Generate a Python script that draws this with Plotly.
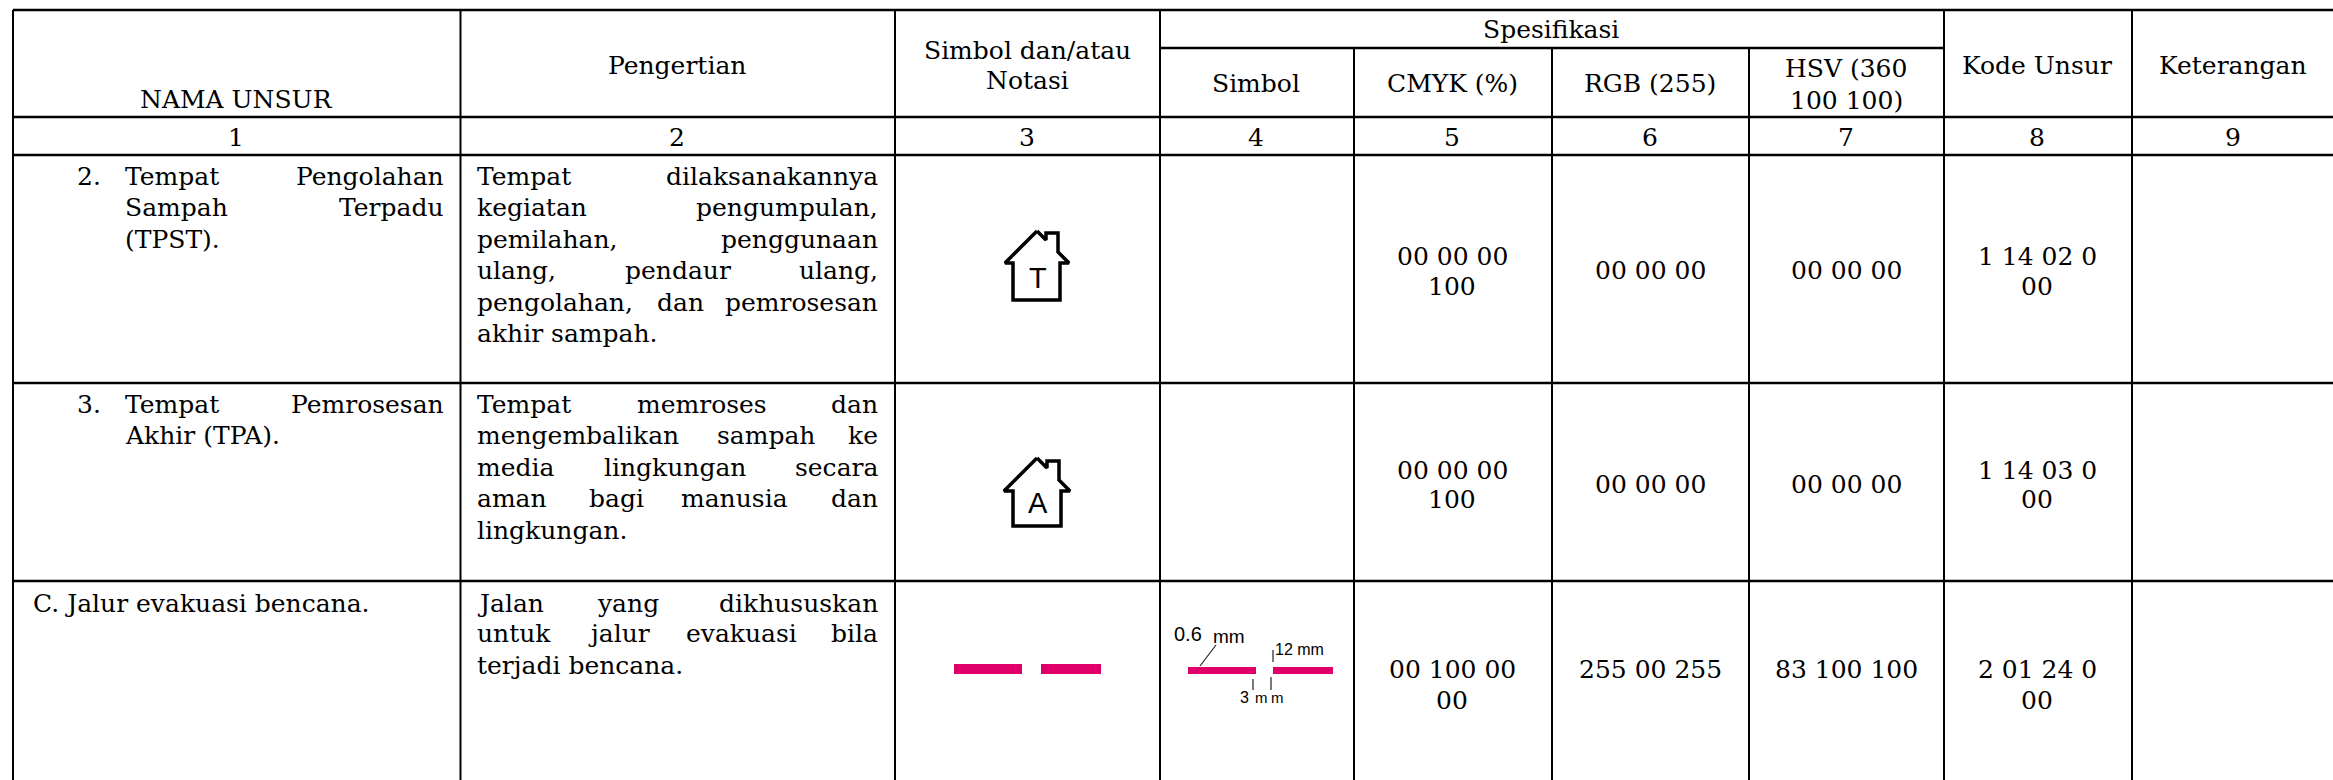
import plotly.graph_objects as go

W, H = 2333, 780
FONT = "DejaVu Serif"
FS = 25
PINK = "#E0006A"

# grid edges of the table (x0, x1, y)
h_rules = [(13, 2333, 10), (1160, 1944, 48), (13, 2333, 117), (13, 2333, 155), (13, 2333, 383), (13, 2333, 581)]
# (x, y0, y1)
v_rules = [(13, 10, 780), (460.5, 10, 780), (895, 10, 780), (1160, 10, 780), (1354, 48, 780), (1552, 48, 780),
           (1749, 48, 780), (1944, 10, 780), (2132, 10, 780)]

# centred text: (text, x, y)
centered = [
    ("NAMA UNSUR", 236, 99), ("Pengertian", 677, 65), ("Simbol dan/atau", 1027, 50), ("Notasi", 1027, 80),
    ("Spesifikasi", 1551, 29), ("Simbol", 1256, 83), ("CMYK (%)", 1452, 83), ("RGB (255)", 1650, 83),
    ("HSV (360", 1846, 68), ("100 100)", 1846, 100), ("Kode Unsur", 2037, 65), ("Keterangan", 2233, 65),
    ("1", 236, 137), ("2", 677, 137), ("3", 1027, 137), ("4", 1256, 137), ("5", 1452, 137), ("6", 1650, 137),
    ("7", 1846, 137), ("8", 2037, 137), ("9", 2233, 137),
    ("00 00 00", 1452, 256), ("100", 1452, 286), ("00 00 00", 1650, 270), ("00 00 00", 1846, 270),
    ("1 14 02 0", 2037, 256), ("00", 2037, 286),
    ("00 00 00", 1452, 470), ("100", 1452, 499), ("00 00 00", 1650, 484), ("00 00 00", 1846, 484),
    ("1 14 03 0", 2037, 470), ("00", 2037, 499),
    ("00 100 00", 1452, 669), ("00", 1452, 700), ("255 00 255", 1650, 669), ("83 100 100", 1846, 669),
    ("2 01 24 0", 2037, 669), ("00", 2037, 700),
]
# left-anchored words: (text, x, y)
left_words = [
    ("2.", 75, 176), ("Tempat", 123, 176), ("Sampah", 123, 207), ("(TPST).", 123, 239),
    ("Tempat", 475, 176), ("kegiatan", 475, 207), ("pemilahan,", 475, 239), ("ulang,", 475, 270), ("pendaur", 623, 270),
    ("pengolahan,", 475, 302), ("dan", 655, 302), ("akhir sampah.", 475, 333),
    ("3.", 75, 404), ("Tempat", 123, 404), ("Akhir (TPA).", 123, 435),
    ("Tempat", 475, 404), ("memroses", 635, 404), ("mengembalikan", 475, 435), ("sampah", 715, 435),
    ("media", 475, 467), ("lingkungan", 601.5, 467), ("aman", 475, 498), ("bagi", 587, 498), ("manusia", 679, 498),
    ("lingkungan.", 475, 530),
    ("C. Jalur evakuasi bencana.", 31, 603), ("Jalan", 475, 603), ("yang", 595, 603),
    ("untuk", 475, 633), ("jalur", 586, 633), ("evakuasi", 684, 633), ("terjadi bencana.", 475, 665),
]
# right-anchored words: (text, x, y)
right_words = [
    ("Pengolahan", 445.5, 176), ("Terpadu", 445.5, 207), ("dilaksanakannya", 880, 176), ("pengumpulan,", 880, 207),
    ("penggunaan", 880, 239), ("ulang,", 880, 270), ("pemrosesan", 880, 302),
    ("Pemrosesan", 445.5, 404), ("dan", 880, 404), ("ke", 880, 435), ("secara", 880, 467), ("dan", 880, 498),
    ("dikhususkan", 880, 603), ("bila", 880, 633),
]

# house outlines
house_t_x = [1037, 1046, 1046, 1058, 1058, 1069, 1060, 1060, 1013, 1013, 1005, 1037]
house_t_y = [231, 240, 233, 233, 252, 263, 263, 300, 300, 263, 263, 231]
house_a_x = [1037, 1047, 1047, 1059, 1059, 1070, 1061, 1061, 1013, 1013, 1004, 1037]
house_a_y = [458, 468, 461, 461, 480, 491, 491, 526, 526, 491, 491, 458]
house_letters = [("T", 1038, 278), ("A", 1038, 503)]

# pink dashes: (x0, x1, y0, y1)
dashes = [(954, 1022, 664, 674), (1041, 1101, 664, 674), (1188, 1256, 667, 674), (1273, 1333, 667, 674)]
# dimension ticks: (x0, y0, x1, y1)
dim_lines = [(1200, 666, 1216, 645), (1273, 650, 1273, 662), (1253, 679, 1253, 690), (1271, 677, 1271, 690)]
# dimension labels: (text, x, y, size)
dim_labels = [("0.6", 1188, 634, 20), ("mm", 1229, 636, 19), ("12 mm", 1299, 649, 16), ("3", 1244, 697, 16),
              ("m", 1261, 697, 15), ("m", 1277, 697, 15)]

fig = go.Figure()

for x, y0, y1 in v_rules:
    fig.add_shape(type="line", x0=x, x1=x, y0=y0, y1=y1, line=dict(color="black", width=2))
for x0, x1, y in h_rules:
    fig.add_shape(type="line", x0=x0, x1=x1, y0=y, y1=y, line=dict(color="black", width=2.5))
for x0, x1, y0, y1 in dashes:
    fig.add_shape(type="rect", x0=x0, x1=x1, y0=y0, y1=y1, fillcolor=PINK, line=dict(width=0))
for x0, y0, x1, y1 in dim_lines:
    fig.add_shape(type="line", x0=x0, x1=x1, y0=y0, y1=y1, line=dict(color="#222222", width=1.2))

for hx, hy in [(house_t_x, house_t_y), (house_a_x, house_a_y)]:
    fig.add_trace(go.Scatter(x=hx, y=hy, mode="lines", line=dict(color="black", width=3.5), hoverinfo="skip", showlegend=False))


def note(text, x, y, anchor, size=FS, family=FONT):
    fig.add_annotation(text=text, x=x, y=y, xref="x", yref="y", xanchor=anchor, yanchor="middle", showarrow=False,
                       font=dict(family=family, size=size, color="black"))


for t, x, y in centered:
    note(t, x, y, "center")
for t, x, y in left_words:
    note(t, x, y, "left")
for t, x, y in right_words:
    note(t, x, y, "right")
for t, x, y in house_letters:
    note(t, x, y, "center", 29, "Liberation Sans")
for t, x, y, s in dim_labels:
    note(t, x, y, "center", s, "Liberation Sans")

fig.update_xaxes(range=[0, W], visible=False)
fig.update_yaxes(range=[H, 0], visible=False)
fig.update_layout(width=W, height=H, margin=dict(l=0, r=0, t=0, b=0), paper_bgcolor="white", plot_bgcolor="white",
                  showlegend=False)
fig.write_html("out.html", config=dict(displayModeBar=False),
               post_script="document.body.style.margin='0';document.body.style.overflow='hidden';")
